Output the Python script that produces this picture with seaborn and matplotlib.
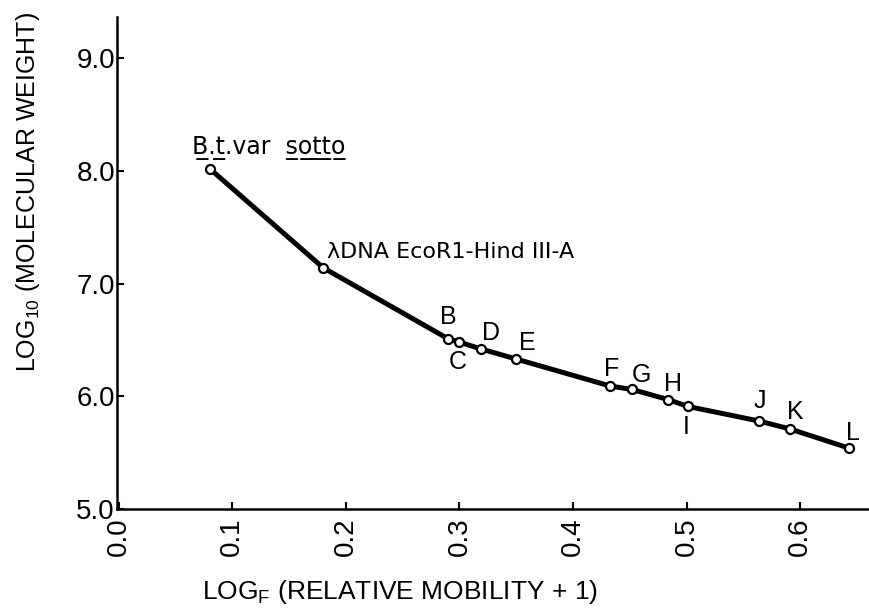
import matplotlib
matplotlib.use("Agg")
import matplotlib.pyplot as plt
import seaborn as sns
import pandas as pd

# calibration standards
names = ["B\u0332.t\u0332.var  s\u0332o\u0332t\u0332t\u0332o\u0332", "\u03bbDNA EcoR1-Hind III-A",
         "B", "C", "D", "E", "F", "G", "H", "I", "J", "K", "L"]
mobility = [0.080, 0.180, 0.290, 0.300, 0.319, 0.350, 0.433, 0.452, 0.484, 0.501, 0.564, 0.591, 0.643]
log_mw = [8.02, 7.14, 6.51, 6.48, 6.42, 6.33, 6.09, 6.06, 5.97, 5.91, 5.78, 5.71, 5.54]

x_ticks = [0.0, 0.1, 0.2, 0.3, 0.4, 0.5, 0.6]
y_ticks = [5.0, 6.0, 7.0, 8.0, 9.0]

# label offsets in points (dx, dy)
offsets = [(-12.7, 10.8), (2.7, 7), (0.5, 16), (-1, -14.5), (7.5, 11.5), (8, 11.5), (0.5, 12.5),
           (7, 10.5), (3, 11), (-1, -15), (0.5, 14.5), (4, 12), (2.5, 11)]

df = pd.DataFrame({"mobility": mobility, "log_mw": log_mw, "name": names})

sns.set_theme(style="ticks")
plt.rcParams["font.family"] = ["Liberation Sans", "DejaVu Sans"]
plt.rcParams["mathtext.default"] = "regular"
plt.rcParams["text.color"] = "black"

fig = plt.figure(figsize=(8.7, 6.13), dpi=100)
ax = fig.add_axes([117 / 870, 1 - 509 / 613, (870 - 117) / 870, (509 - 17) / 613])

sns.lineplot(data=df, x="mobility", y="log_mw", sort=False, color="black", lw=3.6,
             marker="o", markersize=6.5, markerfacecolor="white", markeredgecolor="black",
             markeredgewidth=1.6, ax=ax, zorder=3)

for i, row in df.iterrows():
    dx, dy = offsets[i]
    if i < 2:
        # the two named standards are lettered in a wider face
        ax.annotate(row["name"], (row["mobility"], row["log_mw"]), xytext=(dx, dy),
                    textcoords="offset points", ha="left", va="baseline",
                    fontsize=17 if i == 0 else 16, color="black", family="DejaVu Sans")
    else:
        ax.annotate(row["name"], (row["mobility"], row["log_mw"]), xytext=(dx, dy),
                    textcoords="offset points", ha="center", va="center",
                    fontsize=18, color="black")

ax.set_xlim(-0.0015, 0.6615)
ax.set_ylim(5.0, 9.364)
ax.set_xticks(x_ticks)
ax.set_yticks(y_ticks)
ax.set_xticklabels([f"{v:.1f}" for v in x_ticks], rotation=90, fontsize=20)
ax.set_yticklabels([f"{v:.1f}" for v in y_ticks], fontsize=20)
ax.tick_params(axis="both", direction="in", length=5, width=1.5, colors="black")
ax.tick_params(axis="x", pad=6)
ax.tick_params(axis="y", pad=1.5)
ax.set_xlabel("")
ax.set_ylabel("")
sns.despine(ax=ax)
for s in ["left", "bottom"]:
    ax.spines[s].set_linewidth(1.8)
    ax.spines[s].set_color("black")

fig.text(28 / 870, 1 - 192 / 613, "LOG$_{10}$ (MOLECULAR WEIGHT)", rotation=90,
         ha="center", va="center", fontsize=18, color="black")
fig.text(400 / 870, 1 - 592 / 613, "LOG$_F$ (RELATIVE MOBILITY + 1)",
         ha="center", va="center", fontsize=19, color="black")

fig.savefig("out.png", dpi=100)
